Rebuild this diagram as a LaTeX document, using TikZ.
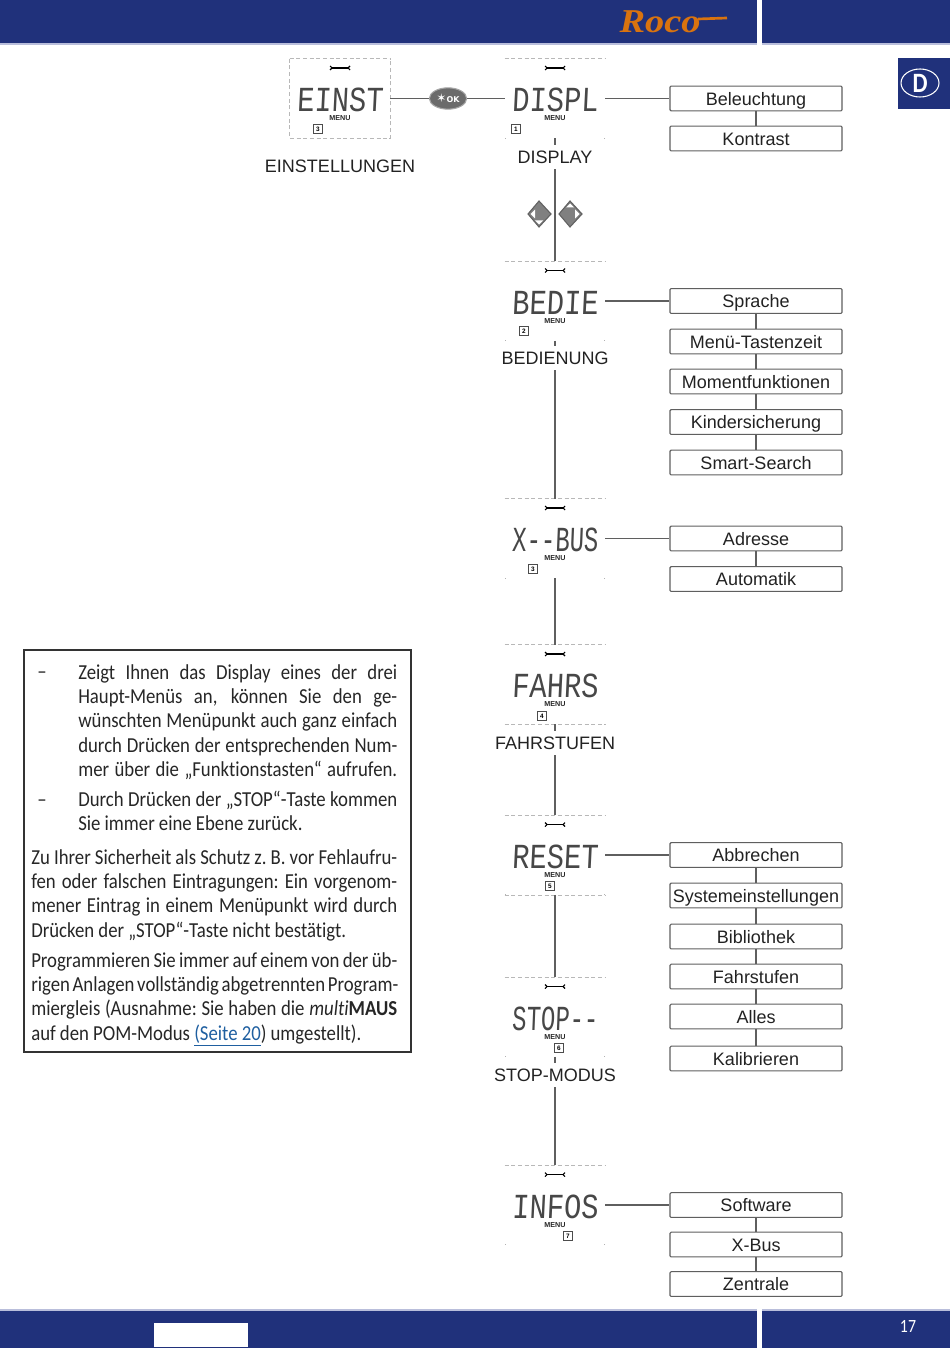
\documentclass[tikz,border=0pt]{standalone}
\usepackage{fontspec}
\setmainfont{Liberation Sans}
\newfontfamily\boxfamily[Ligatures=NoCommon]{Carlito}
\newfontfamily\okfamily{DejaVu Sans}
\newfontfamily\logofamily{Liberation Serif}
\newfontfamily\lcdfamily[FakeSlant=0.06]{Liberation Mono}
\usetikzlibrary{shapes.geometric}
\definecolor{navy}{HTML}{20317B}
\definecolor{navylight}{HTML}{B9BEDB}
\definecolor{wire}{HTML}{5F5F5F}
\definecolor{ink}{HTML}{222222}
\definecolor{logoorange}{HTML}{D9730F}
\definecolor{linkblue}{HTML}{1F5FA0}
\tikzset{
	wire/.style={draw=wire, line width=1pt},
	itembox/.style={draw=wire, line width=0.8pt, rounded corners=0.8pt, fill=white, minimum width=129pt, minimum height=18.5pt, inner sep=0pt, text=ink, text height=10pt, text depth=0pt, font=\fontsize{13.5}{15}\selectfont},
	lcdbox/.style={minimum width=75pt, minimum height=59.5pt, inner sep=0pt},
	lcdedge/.style={draw=black!28, line width=0.5pt, densely dashed},
	lcdcaption/.style={minimum height=18pt, inner sep=0pt, text=ink, text height=9.8pt, text depth=0pt, font=\fontsize{13.5}{15}\selectfont},
	bartext/.style={inner sep=0pt, text=white},
	para/.style={anchor=north west, inner sep=0pt, align=left, text=black!85, font=\boxfamily\fontsize{16}{18.25}\selectfont}
}
\def\jl#1{\leavevmode\scalebox{0.88}[1]{\spaceskip=.22em plus .5em minus .08em \xspaceskip=\spaceskip \hbox to \dimexpr\hsize*100/88\relax{#1}}\par}
% name, centre x, centre y, display text, number, number x, number y
\def\lcdpanel#1#2#3#4#5#6#7{
	\node[lcdbox] (#1) at (#2, #3) {};
	\node[inner sep=0pt, text=black!72, text height=17pt, text depth=0pt, font=\lcdfamily\fontsize{24}{26}\selectfont] (#1txt) at (#2, #3+2) {\scalebox{0.9}[1.1]{#4}};
	\node[inner sep=0pt, text=black!85, font=\bfseries\fontsize{5.4}{6}\selectfont] (#1menu) at (#2, #3+20) {MENU};
	\node[draw=black!70, line width=0.4pt, minimum size=6.5pt, inner sep=0pt, font=\bfseries\fontsize{4.8}{5}\selectfont] (#1num) at (#6, #7) {#5};
	\draw[lcdedge] (#1.north west) -- (#1.north east);
	\draw[draw=black!30, line width=0.5pt] (#2-50, #3+39.5) -- ++(1, 0) (#2+50, #3+39.5) -- ++(-1, 0);
	\draw[line width=1.1pt] (#2-8, #3-30.5) -- (#2+8, #3-30.5);
	\draw[line width=0.8pt] (#2-10, #3-32.5) -- (#2-8, #3-30.5) -- (#2-10, #3-28.5) (#2+10, #3-32.5) -- (#2+8, #3-30.5) -- (#2+10, #3-28.5);
}
\begin{document}
\begin{tikzpicture}[x=0.75pt, y=-0.75pt]
	\useasboundingbox (0, 0) rectangle (950, 1348);
	%%%%% BARS %%%%%
	\fill[navylight] (0, 0) rectangle (757, 45);
	\fill[navylight] (762, 0) rectangle (950, 45);
	\fill[navy] (0, 0) rectangle (757, 43);
	\fill[navy] (762, 0) rectangle (950, 43);
	\fill[navylight] (0, 1309) rectangle (757, 1348);
	\fill[navylight] (762, 1309) rectangle (950, 1348);
	\fill[navy] (0, 1311) rectangle (757, 1348);
	\fill[navy] (762, 1311) rectangle (950, 1348);
	\fill[white] (154, 1323) rectangle (248, 1347);
	\node[bartext, font=\boxfamily\fontsize{14}{16}\selectfont] (pageno) at (908, 1326) {\scalebox{0.85}[1]{17}};

	\node[inner sep=0pt, text=logoorange, font=\logofamily\bfseries\itshape\fontsize{25}{26}\selectfont] (logo) at (660, 22) {\scalebox{1.15}[1]{Roco}};
	\draw[logoorange, line width=2pt] (698, 19) -- (727, 18);

	\fill[navy] (898, 58) rectangle (950, 109);
	\node[ellipse, draw=white, line width=0.8pt, minimum width=28.5pt, minimum height=21pt, inner sep=0pt, text=white, font=\boxfamily\bfseries\fontsize{21}{22}\selectfont] (lang) at (920, 83) {\scalebox{0.85}[1]{D}};

	%%%%% DISPLAYS %%%%%
	\lcdpanel{einst}{340}{98.5}{EINST}{3}{318}{129}
	\lcdpanel{displ}{555}{98.5}{DISPL}{1}{516}{129}
	\lcdpanel{bedie}{555}{301}{BEDIE}{2}{524}{331}
	\lcdpanel{xbus}{555}{538.5}{\scalebox{0.83}[1]{X--BUS}}{3}{533}{569}
	\lcdpanel{fahrs}{555}{684.5}{FAHRS}{4}{542}{716}
	\lcdpanel{reset}{555}{855}{RESET}{5}{550}{886}
	\lcdpanel{stopm}{555}{1017}{\scalebox{0.83}[1]{STOP--}}{6}{559}{1048}
	\lcdpanel{infos}{555}{1205}{INFOS}{7}{568}{1236}

	\draw[lcdedge] (einst.north west) -- (einst.south west) -- (einst.south east) -- (einst.north east);
	\draw[lcdedge] (fahrs.south west) -- (fahrs.south east);
	\draw[lcdedge] (reset.south west) -- (reset.south east);

	\node[lcdcaption] (einstcap) at (340, 166) {EINSTELLUNGEN};
	\node[lcdcaption] (displcap) at (555, 157) {DISPLAY};
	\node[lcdcaption] (bediecap) at (555, 358) {BEDIENUNG};
	\node[lcdcaption] (fahrscap) at (555, 743) {FAHRSTUFEN};
	\node[lcdcaption] (stopmcap) at (555, 1075) {STOP-MODUS};

	\node[ellipse, draw=black!35, line width=0.8pt, fill=black!58, minimum width=28pt, minimum height=16pt, inner sep=0pt, text=white, font=\okfamily\bfseries\fontsize{6}{7}\selectfont] (okkey) at (448, 98.5) {{\fontsize{9}{9}\selectfont ✶}OK};

	%%%%% MAIN LINE %%%%%
	\draw[wire] (einst.east) -- (okkey.west);
	\draw[wire] (okkey.east) -- (displ.west);
	\draw[wire] (displ.south) -- (displcap.north);
	\draw[wire] (displcap.south) -- (bedie.north);
	\draw[wire] (bedie.south) -- (bediecap.north);
	\draw[wire] (bediecap.south) -- (xbus.north);
	\draw[wire] (xbus.south) -- (fahrs.north);
	\draw[wire] (fahrs.south) -- (fahrscap.north);
	\draw[wire] (fahrscap.south) -- (reset.north);
	\draw[wire] (reset.south) -- (stopm.north);
	\draw[wire] (stopm.south) -- (stopmcap.north);
	\draw[wire] (stopmcap.south) -- (infos.north);

	%%%%% ARROW KEYS %%%%%
	\draw[draw=black!62, fill=black!50, line width=0.8pt] (528, 214) -- (539, 201) -- (551, 214) -- (539, 227) -- cycle;
	\fill[white] (530.5, 214) -- (535, 209.5) -- (535, 218.5) -- cycle;
	\fill[white] (539, 224.5) -- (535, 220.5) -- (543, 220.5) -- cycle;
	\draw[draw=black!62, fill=black!50, line width=0.8pt] (559, 214) -- (570, 201) -- (582, 214) -- (570, 227) -- cycle;
	\fill[white] (579.5, 214) -- (575, 209.5) -- (575, 218.5) -- cycle;
	\fill[white] (570, 203.5) -- (566, 207.5) -- (574, 207.5) -- cycle;

	%%%%% MENU ITEMS %%%%%
	\node[itembox] (beleuchtung) at (756, 98.5) {Beleuchtung};
	\node[itembox] (kontrast) at (756, 138.5) {Kontrast};
	\draw[wire] (displ.east) -- (beleuchtung.west);
	\draw[wire] (beleuchtung.south) -- (kontrast.north);

	\node[itembox] (sprache) at (756, 301) {Sprache};
	\node[itembox] (tastenzeit) at (756, 341.5) {Menü-Tastenzeit};
	\node[itembox] (moment) at (756, 381.5) {Momentfunktionen};
	\node[itembox] (kinder) at (756, 422) {Kindersicherung};
	\node[itembox] (smart) at (756, 462.5) {Smart-Search};
	\draw[wire] (bedie.east) -- (sprache.west);
	\draw[wire] (sprache.south) -- (tastenzeit.north);
	\draw[wire] (tastenzeit.south) -- (moment.north);
	\draw[wire] (moment.south) -- (kinder.north);
	\draw[wire] (kinder.south) -- (smart.north);

	\node[itembox] (adresse) at (756, 538.5) {Adresse};
	\node[itembox] (automatik) at (756, 579) {Automatik};
	\draw[wire] (xbus.east) -- (adresse.west);
	\draw[wire] (adresse.south) -- (automatik.north);

	\node[itembox] (abbrechen) at (756, 855) {Abbrechen};
	\node[itembox] (system) at (756, 895.5) {Systemeinstellungen};
	\node[itembox] (biblio) at (756, 936.5) {Bibliothek};
	\node[itembox] (stufen) at (756, 976.5) {Fahrstufen};
	\node[itembox] (alles) at (756, 1016.5) {Alles};
	\node[itembox] (kalib) at (756, 1058.5) {Kalibrieren};
	\draw[wire] (reset.east) -- (abbrechen.west);
	\draw[wire] (abbrechen.south) -- (system.north);
	\draw[wire] (system.south) -- (biblio.north);
	\draw[wire] (biblio.south) -- (stufen.north);
	\draw[wire] (stufen.south) -- (alles.north);
	\draw[wire] (alles.south) -- (kalib.north);

	\node[itembox] (software) at (756, 1205) {Software};
	\node[itembox] (xbusitem) at (756, 1244.5) {X-Bus};
	\node[itembox] (zentrale) at (756, 1284) {Zentrale};
	\draw[wire] (infos.east) -- (software.west);
	\draw[wire] (software.south) -- (xbusitem.north);
	\draw[wire] (xbusitem.south) -- (zentrale.north);

	%%%%% NOTE BOX %%%%%
	\draw[draw=black!80, line width=1pt] (24, 650) rectangle (411, 1052);

	\node[para, text width=15pt] (dashone) at (37, 664) {\jl{\vphantom{Zeigt}–\hfil}};
	\node[para, text width=239.25pt] (tipone) at (78, 664) {
		\jl{Zeigt Ihnen das Display eines der drei}
		\jl{Haupt-Menüs an, können Sie den ge-}
		\jl{wünschten Menüpunkt auch ganz einfach}
		\jl{durch Drücken der entsprechenden Num-}
		\jl{mer über die „Funktionstasten“ aufrufen.}
	};
	\node[para, text width=15pt] (dashtwo) at (37, 791) {\jl{\vphantom{Durch}–\hfil}};
	\node[para, text width=239.25pt] (tiptwo) at (78, 791) {
		\jl{Durch Drücken der „STOP“-Taste kommen}
		\jl{Sie immer eine Ebene zurück.\hfil}
	};
	\node[para, text width=274.5pt] (safety) at (31, 849) {
		\jl{Zu Ihrer Sicherheit als Schutz z. B. vor Fehlaufru-}
		\jl{fen oder falschen Eintragungen: Ein vorgenom-}
		\jl{mener Eintrag in einem Menüpunkt wird durch}
		\jl{Drücken der „STOP“-Taste nicht bestätigt.\hfil}
	};
	\node[para, text width=274.5pt] (program) at (31, 952) {
		\jl{Programmieren Sie immer auf einem von der üb-}
		\jl{rigen Anlagen vollständig abgetrennten Program-}
		\jl{miergleis (Ausnahme: Sie haben die \textit{multi}\textbf{MAUS}}
		\jl{auf den POM-Modus {\color{linkblue}\underline{(Seite 20}})\ umgestellt).\hfil}
	};
\end{tikzpicture}
\end{document}
